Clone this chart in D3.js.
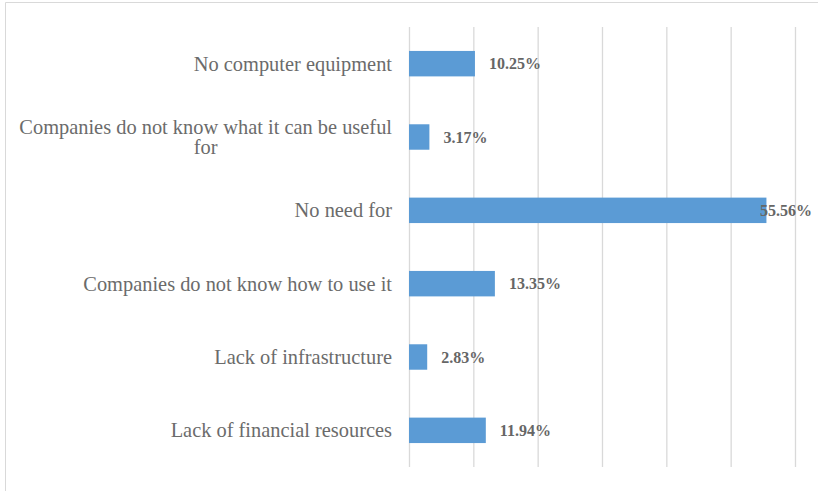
<!DOCTYPE html>
<html>
<head>
<meta charset="utf-8">
<script src="https://cdn.jsdelivr.net/npm/d3@7"></script>
<style>
  html, body { margin: 0; padding: 0; background: #fff; }
  svg { display: block; }
</style>
</head>
<body>
<svg id="chart" width="818" height="491"></svg>
<script>
// Reasons companies give for not using the technology (share of responses, %)
const categories = [
  "No computer equipment",
  "Companies do not know what it can be useful for",
  "No need for",
  "Companies do not know how to use it",
  "Lack of infrastructure",
  "Lack of financial resources"
];
const values = [10.25, 3.17, 55.56, 13.35, 2.83, 11.94];
const gridTicks = [0, 10, 20, 30, 40, 50, 60];

const svg = d3.select("#chart");
const W = 818, H = 491;
const plot = { left: 409, right: 795, top: 27, bottom: 467 };
const serif = "'Liberation Serif', 'Times New Roman', Times, serif";

// Chart frame (top and left edges)
svg.append("line").attr("x1", 5.5).attr("x2", W).attr("y1", 2.5).attr("y2", 2.5)
  .attr("stroke", "#d9d9d9").attr("stroke-width", 1);
svg.append("line").attr("x1", 5.5).attr("x2", 5.5).attr("y1", 2.5).attr("y2", H)
  .attr("stroke", "#d9d9d9").attr("stroke-width", 1);

const x = d3.scaleLinear().domain([0, 60]).range([plot.left, plot.right]);
const y = d3.scaleBand().domain(categories).range([plot.top, plot.bottom])
  .paddingInner(0.653).paddingOuter(0.3265);

// Vertical gridlines
svg.append("g")
  .attr("transform", `translate(0,${plot.bottom})`)
  .call(d3.axisBottom(x).tickValues(gridTicks).tickSize(-(plot.bottom - plot.top)).tickFormat(""))
  .call(g => g.select(".domain").remove())
  .call(g => g.selectAll(".tick line").attr("stroke", "#d9d9d9").attr("stroke-width", 1.3));

// Bars
svg.append("g").selectAll("rect")
  .data(categories)
  .join("rect")
  .attr("x", x(0))
  .attr("y", d => y(d))
  .attr("width", (d, i) => x(values[i]) - x(0))
  .attr("height", y.bandwidth())
  .attr("fill", "#5b9bd5");

// Category labels, wrapped to the available width
const labelRight = 392, wrapWidth = 385, lineH = 20;
const catG = svg.append("g")
  .attr("font-family", serif)
  .attr("font-size", 20.4)
  .attr("fill", "#6b6b6b");

function measure(str) {
  const tmp = catG.append("text").style("visibility", "hidden").text(str);
  const w = tmp.node().getComputedTextLength();
  tmp.remove();
  return w;
}

categories.forEach(c => {
  const words = c.split(" ");
  const lines = [];
  let cur = [];
  words.forEach(w => {
    cur.push(w);
    if (measure(cur.join(" ")) > wrapWidth && cur.length > 1) {
      cur.pop();
      lines.push(cur.join(" "));
      cur = [w];
    }
  });
  lines.push(cur.join(" "));

  const cy = y(c) + y.bandwidth() / 2;
  const y0 = cy - (lines.length - 1) * lineH / 2;
  // Multi-line labels: each line centred on the widest line
  const widest = d3.max(lines, measure);
  const t = catG.append("text");
  lines.forEach((l, i) => {
    t.append("tspan")
      .attr("x", lines.length > 1 ? labelRight - widest / 2 : labelRight)
      .attr("text-anchor", lines.length > 1 ? "middle" : "end")
      .attr("y", y0 + i * lineH)
      .attr("dy", "0.35em")
      .text(l);
  });
});

// Value labels
const valG = svg.append("g")
  .attr("font-family", serif)
  .attr("font-size", 16)
  .attr("font-weight", "bold")
  .attr("fill", "#666666");

categories.forEach((c, i) => {
  const t = valG.append("text")
    .attr("y", y(c) + y.bandwidth() / 2)
    .attr("dy", "0.35em")
    .text(values[i].toFixed(2) + "%");
  const w = t.node().getComputedTextLength();
  t.attr("x", Math.min(x(values[i]) + 14, 812 - w));
});
</script>
</body>
</html>
